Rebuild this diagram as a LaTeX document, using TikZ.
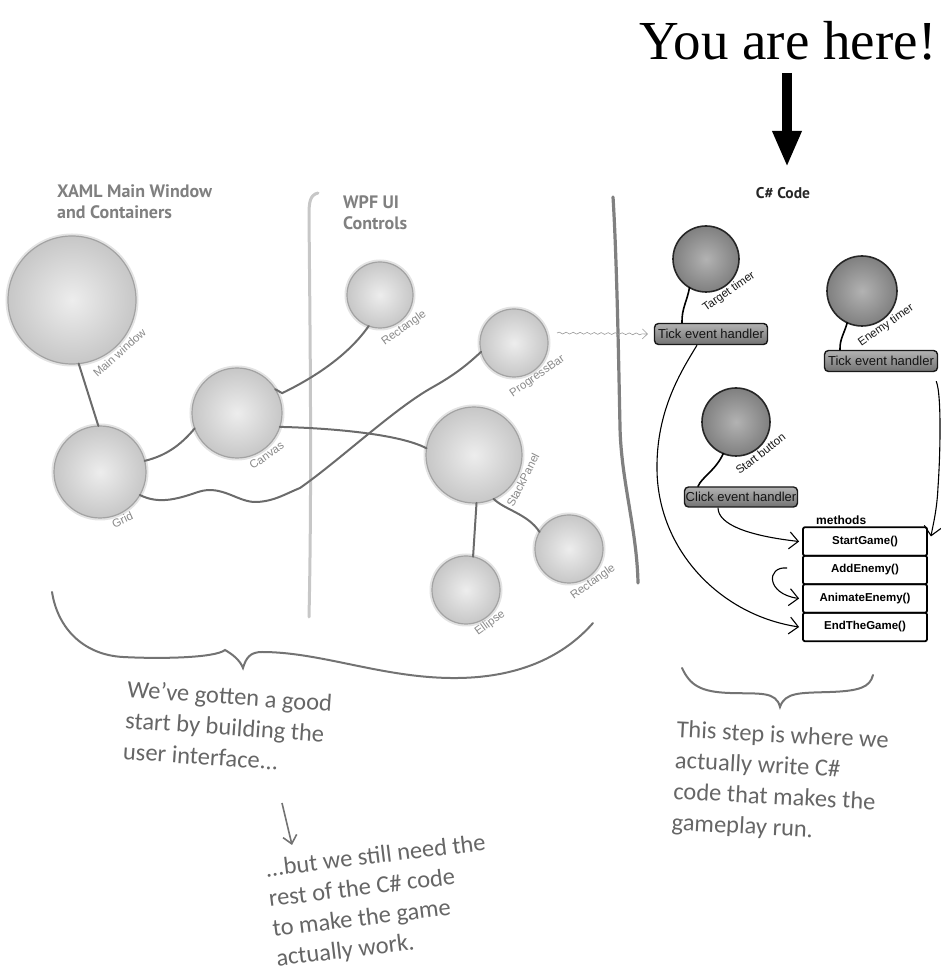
\documentclass[tikz,border=0pt]{standalone}
\usepackage{fontspec}
\setmainfont{Liberation Sans}
\newfontfamily\hdrfont{PT Sans}
\newfontfamily\handfont{Carlito}
\newfontfamily\titlefont{Liberation Serif}
\usetikzlibrary{arrows.meta,decorations.pathmorphing,calc}
\definecolor{lblgray}{HTML}{8A8A8A}
\begin{document}
\begin{tikzpicture}[x=1pt,y=1pt,
  lc/.style={circle, inner sep=0pt, outer sep=0pt, shade, inner color=black!7, outer color=black!22, draw=black!36, line width=1.2pt, preaction={draw=black!11, line width=5pt}},
  dc/.style={circle, inner sep=0pt, outer sep=0pt, shade, inner color=black!30, outer color=black!50, draw=black!85, line width=1.6pt},
  lbl/.style={text=lblgray, font=\fontsize{11.5}{13}\selectfont, inner sep=0.5pt, anchor=north},
  dlbl/.style={text=black!90, font=\fontsize{11.5}{13}\selectfont, inner sep=0.5pt, anchor=north},
  hbox/.style={rectangle, rounded corners=4pt, draw=black!90, line width=1.4pt, top color=black!30, bottom color=black!55, text=black!92, font=\fontsize{13}{15}\selectfont, inner sep=1pt, minimum width=113pt, minimum height=21pt},
  mrow/.style={rectangle, draw=black, line width=1.8pt, rounded corners=2pt, minimum width=124pt, minimum height=28.5pt, font=\bfseries\fontsize{11.5}{13}\selectfont, inner sep=0pt},
  lconn/.style={draw=black!58, line width=2pt, line cap=round},
  rconn/.style={draw=black, line width=1.6pt, line cap=round},
  marrow/.style={draw=black, line width=1.1pt, -{Straight Barb[length=9pt,width=17pt,line width=1.1pt]}},
  bracestyle/.style={draw=black!55, line width=2pt, line cap=round},
  hdr/.style={text=black!50, font=\hdrfont\bfseries\fontsize{18}{21}\selectfont, align=left, inner sep=0pt},
  hand/.style={text=black!60, font=\handfont\fontsize{24.5}{31}\selectfont, align=left, inner sep=0pt}
]
\useasboundingbox (0,0) rectangle (940,980);

% ---------- title ----------
\node[anchor=base, font=\titlefont\fontsize{55}{60}\selectfont, inner sep=0pt] (yah) at (788,920) {You are here!};
\coordinate (arrTop) at (787,907);
\coordinate (arrTip) at (787,813);
\draw[line width=10pt, -{Triangle[length=36pt,width=27pt]}] (arrTop) -- (arrTip);
\node[font=\hdrfont\bfseries\fontsize{15.5}{18}\selectfont, text=black!85, inner sep=0pt] (csc) at (783,787) {C\# Code};

% ---------- headers ----------
\node[hdr, anchor=north west] (hxaml) at (57,795) {XAML Main Window\\and Containers};
\node[hdr, anchor=north west] (hwpf) at (343,784) {WPF UI\\Controls};

% ---------- separators ----------
\draw[draw=black!22, line width=3pt, line cap=round] (318,787) .. controls (310,785) and (309,778) .. (309,765) .. controls (310,650) and (312,500) .. (309,363);
\draw[draw=black!50, line width=3.2pt, line cap=round] (613,783) .. controls (617,720) and (619,600) .. (620,553) .. controls (621,500) and (637,450) .. (638,397);

% ---------- left connectors ----------
\coordinate (w1) at (198,488);
\coordinate (w2) at (257,478);
\coordinate (w3) at (300,492);
\coordinate (w4) at (433,593);

% ---------- light circles ----------
\node[lc, minimum size=128pt] (mainw) at (72,680) {};
\node[lc, minimum size=92pt] (grid) at (100,508) {};
\node[lc, minimum size=90pt] (canvas) at (237,567) {};
\node[lc, minimum size=66pt] (rectA) at (380,685) {};
\node[lc, minimum size=68pt] (pbar) at (514,637) {};
\node[lc, minimum size=96pt] (stack) at (474,525) {};
\node[lc, minimum size=68pt] (rectB) at (569,431) {};
\node[lc, minimum size=68pt] (ellip) at (466,390) {};

\draw[lconn] (mainw.-84) -- (grid.92);
\draw[lconn] (grid.14) .. controls (165,524) and (180,534) .. (canvas.200);
\draw[lconn] (canvas.32) -- ++(7pt,-4pt) .. controls (305,598) and (345,620) .. (rectA.-110);
\draw[lconn] (canvas.-18) .. controls (330,552) and (400,546) .. (stack.172);
\draw[lconn] (grid.-30) .. controls (158,476) and (175,480) .. (w1) .. controls (222,496) and (238,477) .. (w2) .. controls (275,479) and (285,486) .. (w3) .. controls (340,520) and (395,572) .. (w4) .. controls (458,607) and (470,618) .. (pbar.195);
\draw[lconn] (stack.-87) -- (ellip.78);
\draw[lconn] (stack.-66) .. controls (505,470) and (528,466) .. (rectB.150);

% ---------- light labels ----------
\node[lbl, rotate=42] (lmainw) at ($(mainw.center)+(-48:66)$) {Main window};
\node[lbl, rotate=25] (lgrid) at ($(grid.center)+(-65:48)$) {Grid};
\node[lbl, rotate=35] (lcanvas) at ($(canvas.center)+(-55:47)$) {Canvas};
\node[lbl, rotate=36] (lrectA) at ($(rectA.center)+(-54:35)$) {Rectangle};
\node[lbl, rotate=35] (lpbar) at ($(pbar.center)+(-55:35)$) {ProgressBar};
\node[lbl, rotate=63] (lstack) at ($(stack.center)+(-27:50)$) {StackPanel};
\node[lbl, rotate=36] (lrectB) at ($(rectB.center)+(-54:35)$) {Rectangle};
\node[lbl, rotate=36] (lellip) at ($(ellip.center)+(-54:35)$) {Ellipse};

% ---------- right section ----------
\node[dc, minimum size=66pt] (ttimer) at (706,721) {};
\node[dc, minimum size=70pt] (etimer) at (862,689) {};
\node[dc, minimum size=68pt] (sbutton) at (736,558) {};
\node[hbox] (tick1) at (711,646) {Tick event handler};
\node[hbox] (tick2) at (881,619) {Tick event handler};
\node[hbox, minimum height=20pt] (click) at (741,483) {Click event handler};

\draw[rconn] (ttimer.-120) to[out=-100,in=92] ([xshift=-29pt]tick1.north);
\draw[rconn] (etimer.-115) to[out=-105,in=92] ([xshift=-41pt]tick2.north);
\draw[rconn] (sbutton.-112) .. controls (716,510) and (702,503) .. ([xshift=-43pt]click.north);

\node[dlbl, rotate=35] (lttimer) at ($(ttimer.center)+(-55:34)$) {Target timer};
\node[dlbl, rotate=35] (letimer) at ($(etimer.center)+(-55:36)$) {Enemy timer};
\node[dlbl, rotate=38] (lsbutton) at ($(sbutton.center)+(-52:35)$) {Start button};

% methods
\node[mrow] (m1) at (865,438.5) {StartGame()};
\node[mrow] (m2) at (865,410) {AddEnemy()};
\node[mrow] (m3) at (865,381.5) {AnimateEnemy()};
\node[mrow] (m4) at (865,353) {EndTheGame()};
\node[anchor=south west, inner sep=0pt, font=\bfseries\fontsize{12}{14}\selectfont] (mlbl) at (816,455) {methods};

\coordinate (t1a) at (657,510);
\coordinate (t2a) at (938,493);
\draw[marrow] ([xshift=-23pt]click.south) .. controls (718,455) and (750,444) .. ([xshift=-3pt]m1.west);
\draw[marrow] ([xshift=-14pt]tick1.south) .. controls (682,610) and (656,570) .. (t1a) .. controls (658,430) and (720,365) .. ([xshift=-3pt]m4.west);
\draw[marrow] ([shift={(-15pt,2pt)}]m2.west) .. controls (766,414) and (766,386) .. ([xshift=-3pt]m3.west);
\draw[marrow] ([shift={(-2pt,-9pt)}]tick2.south east) .. controls (942,585) and (940,520) .. (t2a) .. controls (937,470) and (933,455) .. ([shift={(3pt,5pt)}]m1.east);

% wavy link
\draw[draw=black!40, line width=0.6pt, decorate, decoration={snake, amplitude=0.9pt, segment length=7pt, post length=4pt}, -{Straight Barb[length=5pt,width=10pt,line width=0.6pt]}] ([shift={(9pt,10pt)}]pbar.east) -- ([xshift=-6pt]tick1.west);

% ---------- braces ----------
\draw[bracestyle] (52,388) .. controls (58,350) and (85,325) .. (123,323) .. controls (160,321) and (215,322) .. (225,330) .. controls (232,326) and (240,320) .. (243,312) .. controls (246,322) and (250,328) .. (262,328) .. controls (320,328) and (380,303) .. (450,302) .. controls (520,301) and (565,325) .. (593,357);
\draw[bracestyle] (682,312) .. controls (690,295) and (700,288) .. (730,287) .. controls (760,286) and (776,289) .. (780,273) .. controls (785,288) and (800,287) .. (830,288) .. controls (860,289) and (870,293) .. (873,305);

% ---------- handwritten notes ----------
\node[hand, anchor=north west, rotate=-4] (nleft) at (128,300) {We’ve gotten a good\\start by building the\\user interface...};
\node[hand, anchor=north west, rotate=-3] (nright) at (677,260) {This step is where we\\actually write C\#\\code that makes the\\gameplay run.};
\node[hand, anchor=north west, rotate=7, font=\handfont\fontsize{24.5}{30}\selectfont] (nbottom) at (264,120) {...but we still need the\\rest of the C\# code\\to make the game\\actually work.};
\coordinate (sa1) at (282,177);
\coordinate (sa2) at (292,135);
\draw[draw=black!55, line width=1.6pt, -{Straight Barb[length=8pt,width=14pt,line width=1.6pt]}] (sa1) -- (sa2);
\end{tikzpicture}
\end{document}
